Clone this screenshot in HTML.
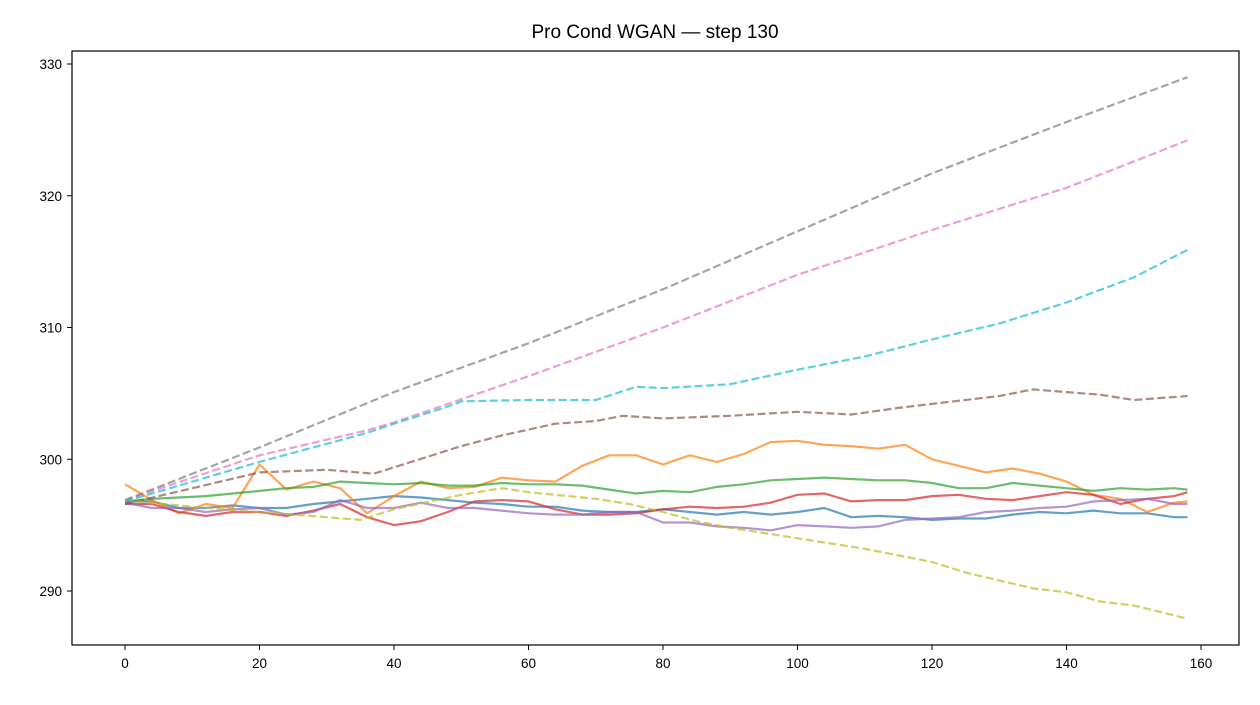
<!DOCTYPE html>
<html><head><meta charset="utf-8"><style>
body{margin:0;background:#fff;}
svg text{font-family:"Liberation Sans","DejaVu Sans",sans-serif;fill:#000;}
</style></head><body>
<svg id="chart" width="1260" height="700" xmlns="http://www.w3.org/2000/svg">
<rect width="1260" height="700" fill="#fff"/>
<text x="655" y="38" font-size="19" text-anchor="middle">Pro Cond WGAN — step 130</text>
<g id="series"></g>
<g id="axes"></g>
<rect x="72" y="51" width="1167" height="594" fill="none" stroke="#000" stroke-width="1.2"/>
</svg>
<script>
const xTicks=[0,20,40,60,80,100,120,140,160];
const yTicks=[290,300,310,320,330];
const S4=[0,4,8,12,16,20,24,28,32,36,40,44,48,52,56,60,64,68,72,76,80,84,88,92,96,100,104,108,112,116,120,124,128,132,136,140,144,148,152,156,158];
const blueVals=[296.8,296.8,296.3,296.3,296.5,296.3,296.3,296.6,296.8,297.0,297.2,297.1,296.9,296.7,296.6,296.4,296.4,296.1,296.0,296.0,296.2,296.0,295.8,296.0,295.8,296.0,296.3,295.6,295.7,295.6,295.4,295.5,295.5,295.8,296.0,295.9,296.1,295.9,295.9,295.6,295.6];
const orangeVals=[298.1,296.9,295.9,296.6,296.3,299.6,297.7,298.3,297.8,295.9,297.2,298.3,297.8,297.9,298.6,298.4,298.3,299.5,300.3,300.3,299.6,300.3,299.8,300.4,301.3,301.4,301.1,301.0,300.8,301.1,300.0,299.5,299.0,299.3,298.9,298.3,297.3,297.0,296.0,296.7,296.8];
const greenVals=[296.8,297.0,297.1,297.2,297.4,297.6,297.8,297.9,298.3,298.2,298.1,298.2,298.0,298.0,298.2,298.1,298.1,298.0,297.7,297.4,297.6,297.5,297.9,298.1,298.4,298.5,298.6,298.5,298.4,298.4,298.2,297.8,297.8,298.2,298.0,297.8,297.6,297.8,297.7,297.8,297.7];
const redVals=[296.6,296.6,296.0,295.7,296.0,296.0,295.7,296.1,296.6,295.6,295.0,295.3,296.0,296.8,296.9,296.8,296.2,295.8,295.8,295.9,296.2,296.4,296.3,296.4,296.7,297.3,297.4,296.8,296.9,296.9,297.2,297.3,297.0,296.9,297.2,297.5,297.3,296.6,297.0,297.2,297.5];
const purpleVals=[296.7,296.3,296.3,296.0,296.2,296.3,295.8,296.0,296.9,296.3,296.3,296.7,296.3,296.3,296.1,295.9,295.8,295.8,296.0,296.0,295.2,295.2,294.9,294.8,294.6,295.0,294.9,294.8,294.9,295.4,295.5,295.6,296.0,296.1,296.3,296.4,296.8,296.9,297.0,296.6,296.6];
const grayX=[0,20,40,60,80,100,120,140,158];
const grayVals=[296.9,300.9,305.1,308.8,312.9,317.3,321.7,325.6,329.0];
const pinkX=[0,20,36,40,60,80,100,120,140,158];
const pinkVals=[296.9,300.3,302.2,302.8,306.3,310.0,314.0,317.4,320.6,324.2];
const cyanX=[0,20,36,40,48,50,60,70,76,80,90,100,110,120,130,140,150,158];
const cyanVals=[296.8,299.8,302.0,302.7,304.0,304.4,304.5,304.5,305.5,305.4,305.7,306.8,307.8,309.1,310.3,311.9,313.8,315.9];
const brownX=[0,20,30,37,50,56,64,70,74,80,90,100,108,115,120,130,135,140,145,150,158];
const brownVals=[296.6,299.0,299.2,298.9,301.0,301.8,302.7,302.9,303.3,303.1,303.3,303.6,303.4,303.9,304.2,304.8,305.3,305.1,304.9,304.5,304.8];
const oliveX=[0,10,20,30,35,40,50,56,60,70,75,80,85,90,95,100,110,120,125,130,135,140,145,150,158];
const oliveVals=[296.9,296.4,296.0,295.6,295.4,296.2,297.3,297.8,297.5,297.0,296.6,296.0,295.3,294.8,294.4,294.0,293.2,292.2,291.4,290.8,290.2,289.9,289.2,288.9,287.9];

const NS="http://www.w3.org/2000/svg";
const xs=v=>125+v*6.725;
const ys=v=>64+(330-v)*13.175;
const series=[
 ["blue-series",S4,blueVals,"#1f77b4",false],
 ["orange-series",S4,orangeVals,"#ff7f0e",false],
 ["green-series",S4,greenVals,"#2ca02c",false],
 ["red-series",S4,redVals,"#d62728",false],
 ["purple-series",S4,purpleVals,"#9467bd",false],
 ["brown-series",brownX,brownVals,"#8c564b",true],
 ["pink-series",pinkX,pinkVals,"#e377c2",true],
 ["gray-series",grayX,grayVals,"#7f7f7f",true],
 ["olive-series",oliveX,oliveVals,"#bcbd22",true],
 ["cyan-series",cyanX,cyanVals,"#17becf",true]
];
const g=document.getElementById('series');
series.forEach(s=>{
 const p=document.createElementNS(NS,'polyline');
 
 
 p.setAttribute('points',s[1].map((x,i)=>xs(x).toFixed(1)+','+ys(s[2][i]).toFixed(1)).join(' '));
 p.setAttribute('fill','none');p.setAttribute('stroke',s[3]);p.setAttribute('stroke-opacity','0.7');
 p.setAttribute('stroke-width','2.2');p.setAttribute('stroke-linejoin','round');
 if(s[4])p.setAttribute('stroke-dasharray','8,3.5');
 g.appendChild(p);
});
const a=document.getElementById('axes');
xTicks.forEach(t=>{
 const l=document.createElementNS(NS,'line');
 
 
 l.setAttribute('x1',xs(t));l.setAttribute('x2',xs(t));l.setAttribute('y1',645);l.setAttribute('y2',650);l.setAttribute('stroke','#000');
 a.appendChild(l);
 const tx=document.createElementNS(NS,'text');
 
 
 tx.setAttribute('x',xs(t));tx.setAttribute('y',668);tx.setAttribute('font-size','13.5');tx.setAttribute('text-anchor','middle');
 tx.textContent=t;a.appendChild(tx);
});
yTicks.forEach(t=>{
 const l=document.createElementNS(NS,'line');
 
 
 l.setAttribute('x1',67);l.setAttribute('x2',72);l.setAttribute('y1',ys(t));l.setAttribute('y2',ys(t));l.setAttribute('stroke','#000');
 a.appendChild(l);
 const tx=document.createElementNS(NS,'text');
 
 
 tx.setAttribute('x',62);tx.setAttribute('y',ys(t)+5);tx.setAttribute('font-size','13.5');tx.setAttribute('text-anchor','end');
 tx.textContent=t;a.appendChild(tx);
});
</script>
</body></html>
